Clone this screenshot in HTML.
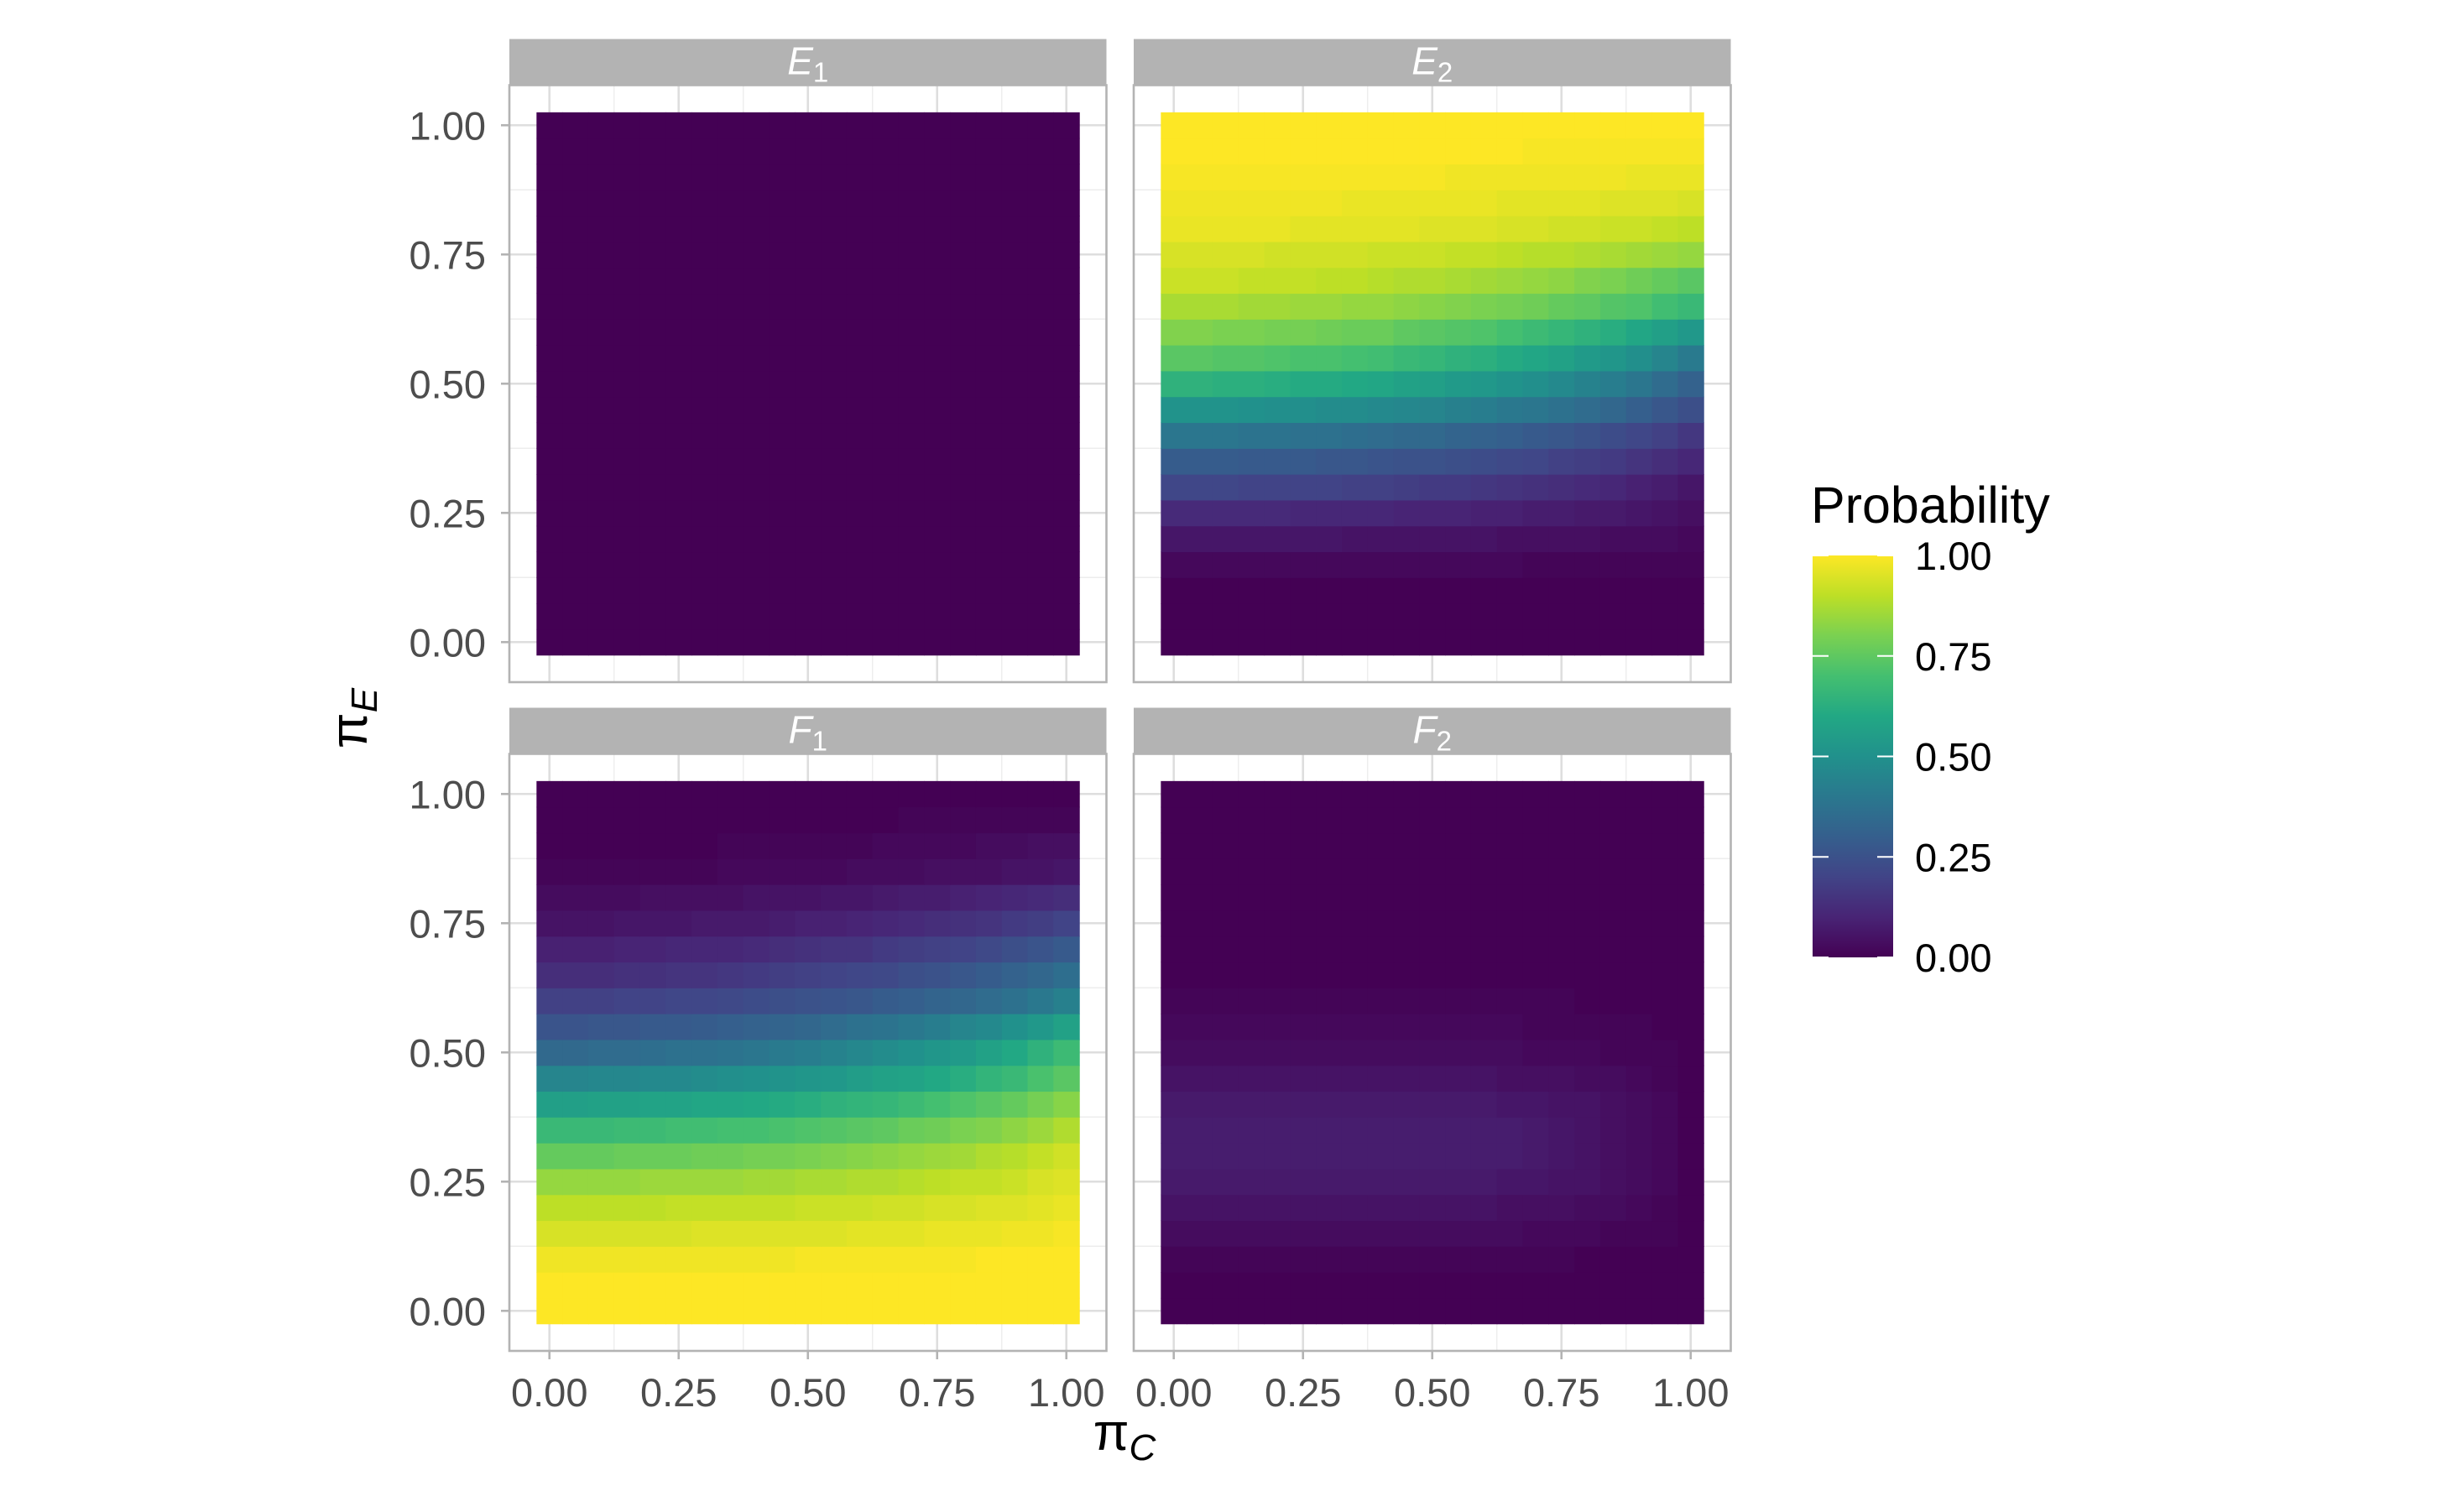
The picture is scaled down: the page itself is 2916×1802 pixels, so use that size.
<!DOCTYPE html>
<html><head><meta charset="utf-8"><style>
html,body{margin:0;padding:0;background:#fff;}
svg{display:block;}
text{font-family:"Liberation Sans",sans-serif;}
</style></head><body>
<svg id="chart" width="2916" height="1802" viewBox="0 0 2916 1802" xmlns="http://www.w3.org/2000/svg">
<g id="panels"></g>
<g id="legend"></g>
<text x="437" y="856" font-family="Liberation Serif, serif" font-size="62" fill="#000" transform="rotate(-90 437 856)" text-anchor="middle">π<tspan font-family="Liberation Sans, sans-serif" font-style="italic" font-size="44" dy="12">E</tspan></text>
<text x="1340" y="1728" font-family="Liberation Serif, serif" font-size="62" fill="#000" text-anchor="middle">π<tspan font-family="Liberation Sans, sans-serif" font-style="italic" font-size="44" dy="12">C</tspan></text>
</svg>
<script>
const piC = [0,0.05,0.1,0.15,0.2,0.25,0.3,0.35,0.4,0.45,0.5,0.55,0.6,0.65,0.7,0.75,0.8,0.85,0.9,0.95,1];
const piE = [0,0.05,0.1,0.15,0.2,0.25,0.3,0.35,0.4,0.45,0.5,0.55,0.6,0.65,0.7,0.75,0.8,0.85,0.9,0.95,1];
const tickValues = [0,0.25,0.5,0.75,1];
const tickLabels = ["0.00","0.25","0.50","0.75","1.00"];
const panelLabels = [["E","1"],["E","2"],["F","1"],["F","2"]];
const Z = [0,0,0,0,0,0,0,0,0,0,0,0,0,0,0,0,0,0,0,0,0];
// rows indexed by piE (bottom -> top), columns by piC
const e1Values = [Z,Z,Z,Z,Z,Z,Z,Z,Z,Z,Z,Z,Z,Z,Z,Z,Z,Z,Z,Z,Z];
const e2Values = [
Z,Z,Z,
[.02,.02,.02,.02,.02,.02,.02,.02,.02,.02,.02,.02,.02,.02,.01,.01,.01,.01,.01,.01,.01],
[.06,.06,.06,.06,.06,.06,.06,.05,.05,.05,.05,.05,.05,.04,.04,.04,.04,.03,.03,.03,.02],
[.12,.12,.12,.12,.12,.11,.11,.11,.11,.10,.10,.10,.09,.09,.08,.08,.07,.07,.06,.05,.04],
[.21,.21,.21,.20,.20,.20,.20,.19,.19,.18,.17,.17,.16,.15,.14,.13,.12,.11,.09,.08,.06],
[.29,.29,.29,.28,.28,.28,.27,.27,.26,.25,.25,.24,.23,.22,.21,.19,.18,.17,.15,.13,.11],
[.39,.39,.39,.38,.38,.37,.37,.36,.35,.34,.34,.32,.31,.30,.28,.27,.25,.23,.21,.19,.16],
[.51,.51,.51,.50,.49,.49,.48,.48,.47,.46,.45,.43,.42,.40,.39,.37,.35,.33,.30,.27,.24],
[.64,.64,.63,.63,.62,.61,.61,.60,.59,.57,.56,.54,.53,.51,.49,.47,.44,.42,.39,.35,.31],
[.74,.74,.73,.73,.72,.71,.71,.70,.69,.67,.66,.64,.63,.61,.59,.57,.54,.52,.49,.45,.41],
[.81,.81,.80,.80,.79,.79,.78,.77,.77,.75,.74,.73,.72,.70,.68,.66,.64,.62,.59,.56,.53],
[.87,.87,.87,.86,.86,.85,.85,.84,.84,.83,.82,.81,.80,.79,.78,.76,.75,.73,.72,.69,.67],
[.92,.92,.92,.91,.91,.91,.90,.90,.89,.88,.88,.87,.86,.85,.84,.83,.81,.80,.78,.76,.74],
[.94,.94,.94,.94,.93,.93,.93,.93,.92,.92,.92,.91,.91,.90,.89,.89,.88,.87,.86,.85,.84],
[.97,.97,.97,.97,.97,.96,.96,.96,.96,.96,.95,.95,.95,.94,.94,.93,.93,.92,.92,.91,.90],
[.98,.98,.98,.98,.98,.98,.98,.97,.97,.97,.97,.97,.97,.96,.96,.96,.96,.95,.95,.95,.94],
[.99,.99,.99,.99,.99,.99,.99,.99,.99,.99,.99,.98,.98,.98,.98,.98,.98,.98,.97,.97,.97],
[1,1,1,1,1,1,1,1,1,1,1,1,1,1,.99,.99,.99,.99,.99,.99,.99],
[1,1,1,1,1,1,1,1,1,1,1,1,1,1,1,1,1,1,1,1,1]
];
const f1Values = [
[1,1,1,1,1,1,1,1,1,1,1,1,1,1,1,1,1,1,1,1,1],
[1,1,1,1,1,1,1,1,1,1,1,1,1,1,1,1,1,1,1,1,1],
[.98,.98,.98,.98,.98,.98,.98,.98,.98,.98,.99,.99,.99,.99,.99,.99,.99,1,1,1,1],
[.94,.94,.94,.94,.94,.94,.95,.95,.95,.95,.95,.95,.96,.96,.96,.97,.97,.97,.98,.98,.99],
[.90,.90,.90,.90,.90,.91,.91,.91,.91,.91,.92,.92,.92,.93,.93,.94,.94,.95,.95,.96,.97],
[.84,.84,.84,.84,.85,.85,.85,.85,.86,.86,.87,.87,.88,.88,.89,.90,.91,.91,.92,.94,.95],
[.76,.76,.76,.77,.77,.77,.78,.78,.79,.79,.80,.81,.82,.83,.84,.85,.86,.88,.89,.91,.93],
[.67,.67,.67,.68,.68,.69,.69,.70,.70,.71,.72,.73,.74,.75,.77,.78,.80,.81,.83,.85,.88],
[.56,.56,.57,.57,.58,.58,.59,.59,.60,.61,.62,.64,.65,.66,.68,.70,.72,.74,.76,.79,.82],
[.45,.45,.46,.46,.47,.47,.48,.49,.50,.51,.52,.53,.55,.57,.58,.60,.62,.65,.67,.71,.74],
[.34,.34,.35,.35,.36,.37,.37,.38,.39,.41,.42,.44,.46,.48,.50,.52,.54,.57,.60,.64,.68],
[.26,.26,.27,.27,.28,.28,.29,.30,.31,.32,.33,.35,.37,.38,.40,.42,.45,.47,.50,.53,.57],
[.19,.19,.19,.20,.20,.21,.21,.22,.23,.24,.25,.26,.27,.29,.30,.32,.33,.35,.37,.40,.43],
[.13,.13,.13,.14,.14,.15,.15,.16,.17,.18,.19,.20,.21,.22,.24,.25,.27,.29,.31,.33,.36],
[.09,.09,.09,.10,.10,.11,.11,.11,.12,.13,.14,.15,.15,.17,.18,.19,.20,.22,.24,.26,.28],
[.05,.05,.05,.06,.06,.06,.07,.07,.07,.08,.09,.09,.10,.11,.12,.13,.14,.15,.17,.18,.20],
[.03,.03,.03,.03,.04,.04,.04,.04,.05,.05,.05,.06,.06,.07,.08,.08,.09,.10,.11,.12,.13],
[.01,.01,.01,.01,.01,.01,.01,.02,.02,.02,.02,.02,.03,.03,.03,.04,.04,.04,.05,.05,.06],
[0,0,0,0,0,0,0,.01,.01,.01,.01,.01,.01,.02,.02,.02,.02,.03,.03,.04,.04],
[0,0,0,0,0,0,0,0,0,0,0,0,0,0,.01,.01,.01,.01,.01,.01,.01],
Z
];
const f2Values = [
Z,Z,
[.01,.01,.01,.01,.01,.01,.01,.01,.01,.01,.01,.01,.01,.01,.01,.01,0,0,0,0,0],
[.03,.03,.03,.03,.03,.03,.03,.03,.03,.03,.03,.03,.03,.03,.02,.02,.02,.01,.01,.01,0],
[.05,.05,.05,.05,.05,.05,.05,.05,.05,.05,.05,.05,.05,.04,.04,.04,.03,.03,.02,.01,0],
[.07,.07,.07,.07,.07,.07,.07,.07,.07,.07,.07,.07,.07,.06,.06,.05,.05,.04,.03,.02,0],
[.08,.08,.08,.08,.08,.08,.08,.08,.08,.08,.08,.08,.08,.08,.07,.06,.05,.04,.03,.02,0],
[.08,.08,.08,.08,.08,.08,.08,.08,.08,.08,.08,.08,.08,.08,.07,.06,.05,.04,.03,.02,0],
[.07,.07,.07,.07,.07,.07,.07,.07,.07,.07,.07,.07,.07,.06,.06,.05,.05,.04,.03,.02,0],
[.05,.05,.05,.05,.05,.05,.05,.05,.05,.05,.05,.05,.05,.04,.04,.04,.03,.03,.02,.01,0],
[.03,.03,.03,.03,.03,.03,.03,.03,.03,.03,.03,.03,.03,.03,.02,.02,.02,.01,.01,.01,0],
[.02,.02,.02,.02,.02,.02,.02,.02,.02,.02,.02,.02,.02,.02,.01,.01,.01,.01,.01,0,0],
[.01,.01,.01,.01,.01,.01,.01,.01,.01,.01,.01,.01,.01,.01,.01,.01,0,0,0,0,0],
Z,Z,Z,Z,Z,Z,Z,Z
];
const panelValues = [e1Values, e2Values, f1Values, f2Values];

const NS = "http://www.w3.org/2000/svg";
const VIR = ["#440154","#482475","#414487","#355f8d","#2a788e","#21918c","#22a884","#44bf70","#7ad151","#bddf26","#fde725"];
function hex(h){return [parseInt(h.slice(1,3),16),parseInt(h.slice(3,5),16),parseInt(h.slice(5,7),16)];}
function viridis(v){
  v=Math.max(0,Math.min(1,v));
  const p=v*10, i=Math.min(9,Math.floor(p)), t=p-i;
  const a=hex(VIR[i]), b=hex(VIR[i+1]);
  return "rgb("+a.map((c,k)=>Math.round(c+(b[k]-c)*t)).join(",")+")";
}
function mk(tag, attrs, parent){
  const el=document.createElementNS(NS,tag);
  for(const k in attrs) el.setAttribute(k,attrs[k]);
  parent.appendChild(el); return el;
}
const SCALE=616, EXP=0.0775, PW=711.5;
const panelX=[607,1351,607,1351];
const panelTop=[101.5,101.5,898.5,898.5];
const panelsG=document.getElementById("panels");

for(let p=0;p<4;p++){
  const x0=panelX[p], top=panelTop[p], bot=top+PW;
  const xs=v=>x0+(v+EXP)*SCALE;
  const ys=v=>bot-(v+EXP)*SCALE;
  const g=mk("g",{},panelsG);
  
  
  const strip=mk("rect",{x:x0,y:top-55,width:PW,height:55,fill:"#b3b3b3"},g);
  
  
  const st=mk("text",{x:x0+PW/2,y:top-13,fill:"#fff","font-size":"46","font-style":"italic","text-anchor":"middle"},g);
  
  
  st.textContent=panelLabels[p][0];
  const sub=mk("tspan",{"font-size":"33","font-style":"normal",dy:"9"},st);
  sub.textContent=panelLabels[p][1];
  mk("rect",{x:x0,y:top,width:PW,height:PW,fill:"#fff"},g);
  for(let i=0;i<tickValues.length-1;i++){
    const m=(tickValues[i]+tickValues[i+1])/2;
    mk("line",{x1:xs(m),x2:xs(m),y1:top,y2:bot,stroke:"#ededed","stroke-width":1.4},g);
    mk("line",{x1:x0,x2:x0+PW,y1:ys(m),y2:ys(m),stroke:"#ededed","stroke-width":1.4},g);
  }
  tickValues.forEach(v=>{
    mk("line",{x1:xs(v),x2:xs(v),y1:top,y2:bot,stroke:"#dedede","stroke-width":2.6},g);
    mk("line",{x1:x0,x2:x0+PW,y1:ys(v),y2:ys(v),stroke:"#dedede","stroke-width":2.6},g);
  });
  const vals=panelValues[p];
  const w=0.05*SCALE;
  for(let r=0;r<piE.length;r++){
    for(let c=0;c<piC.length;c++){
      const cell=mk("rect",{x:xs(piC[c])-w/2,y:ys(piE[r])-w/2,width:w+0.6,height:w+0.6,fill:viridis(vals[r][c])},g);
      
      
    }
  }
  mk("rect",{x:x0,y:top,width:PW,height:PW,fill:"none",stroke:"#b3b3b3","stroke-width":2.6},g);
  if(p%2===0){
    tickValues.forEach((v,i)=>{
      mk("line",{x1:x0-10,x2:x0,y1:ys(v),y2:ys(v),stroke:"#b3b3b3","stroke-width":2.6},g);
      const t=mk("text",{x:x0-28,y:ys(v)+17,"font-size":"47",fill:"#4d4d4d","text-anchor":"end"},g);
      
      
      t.textContent=tickLabels[i];
    });
  }
  if(p>=2){
    tickValues.forEach((v,i)=>{
      mk("line",{x1:xs(v),x2:xs(v),y1:bot,y2:bot+10,stroke:"#b3b3b3","stroke-width":2.6},g);
      const t=mk("text",{x:xs(v),y:bot+66,"font-size":"47",fill:"#4d4d4d","text-anchor":"middle"},g);
      
      
      t.textContent=tickLabels[i];
    });
  }
}

const lg=document.getElementById("legend");
const defs=mk("defs",{},lg);
const grad=mk("linearGradient",{id:"vgrad",x1:"0",y1:"1",x2:"0",y2:"0"},defs);
VIR.forEach((c,i)=>mk("stop",{offset:(i/10),"stop-color":c},grad));
const LX=2160, LW=96, LT=662, LB=1141;
const lt=mk("text",{x:2158,y:623,"font-size":"61",fill:"#000"},lg);


lt.textContent="Probability";
const bar=mk("rect",{x:LX,y:LT,width:LW,height:LB-LT,fill:"url(#vgrad)"},lg);


const ly=v=>LB-v*(LB-LT);
tickValues.forEach((v,i)=>{
  mk("line",{x1:LX,x2:LX+19,y1:ly(v),y2:ly(v),stroke:"#fff","stroke-width":2},lg);
  mk("line",{x1:LX+LW-19,x2:LX+LW,y1:ly(v),y2:ly(v),stroke:"#fff","stroke-width":2},lg);
  const t=mk("text",{x:2282,y:ly(v)+17,"font-size":"47",fill:"#000"},lg);
  
  
  t.textContent=tickLabels[i];
});
</script>
</body></html>
